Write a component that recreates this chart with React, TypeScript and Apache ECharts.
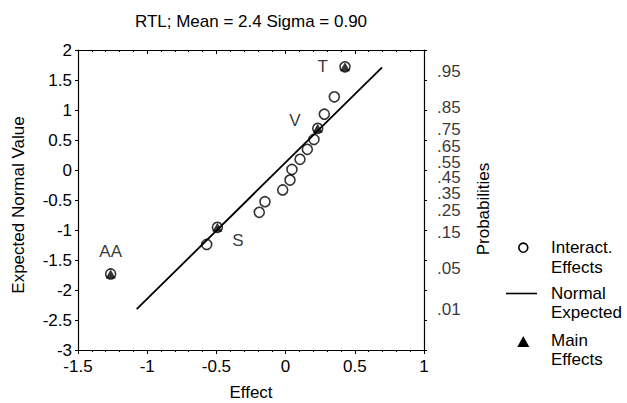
import React, { useEffect, useRef } from "react";
import * as echarts from "echarts";

const FONT = "'Liberation Sans', Arial, Helvetica, sans-serif";

// Interaction effects: [effect, expected normal value]
const interactEffect = [0.352, 0.28, 0.205, 0.157, 0.104, 0.046, 0.032, -0.021, -0.149, -0.19, -0.57];
const interactNormal = [1.22, 0.93, 0.51, 0.345, 0.178, 0.01, -0.167, -0.333, -0.528, -0.705, -1.24];

// Main effects
const mainNames = ["T", "V", "S", "AA"];
const mainEffect = [0.429, 0.232, -0.493, -1.264];
const mainNormal = [1.72, 0.695, -0.955, -1.733];

// Normal expected line end points
const lineEffect = [-1.076, 0.697];
const lineNormal = [-2.32, 1.71];

// Probability scale on the right
const probLabels = [".95", ".85", ".75", ".65", ".55", ".45", ".35", ".25", ".15", ".05", ".01"];
const probZ = [1.645, 1.036, 0.674, 0.385, 0.126, -0.126, -0.385, -0.674, -1.036, -1.645, -2.326];

const labelOffsets: Record<string, any> = {
  T: { position: "left", distance: 12 },
  V: { position: "left", offset: [-4, -8], distance: 8 },
  S: { position: "right", offset: [2, 13], distance: 8 },
  AA: { position: "top", distance: 9 },
};

export default function App() {
  const ref = useRef<HTMLDivElement>(null);
  useEffect(() => {
    if (!ref.current) return;
    const chart = echarts.init(ref.current, null, { renderer: "svg" });
    const txt = { color: "#000", fontFamily: FONT, fontSize: 17 };
    const axisLine = { show: true, onZero: false, lineStyle: { color: "#000", width: 1.2 } };
    const option: any = {
      animation: false,
      backgroundColor: "#fff",
      textStyle: { fontFamily: FONT, color: "#000" },
      title: {
        text: "RTL; Mean = 2.4 Sigma = 0.90",
        left: 251,
        top: 13,
        padding: 0,
        textAlign: "center",
        textStyle: { ...txt, fontWeight: "normal" },
      },
      grid: { left: 78, right: 203, top: 50, bottom: 53, containLabel: false, outerBoundsMode: "none" },
      xAxis: [
        {
          type: "value",
          position: "bottom",
          min: -1.5,
          max: 1,
          interval: 0.5,
          name: "Effect",
          nameLocation: "middle",
          nameGap: 34,
          nameTextStyle: txt,
          axisLine,
          axisTick: { show: true, inside: false, length: 4, lineStyle: { color: "#000" } },
          minorTick: { show: true, splitNumber: 5, length: 2, lineStyle: { color: "#000" } },
          axisLabel: { ...txt, margin: 8 },
          splitLine: { show: false },
        },
        {
          type: "value",
          position: "top",
          min: -1.5,
          max: 1,
          interval: 0.5,
          axisLine,
          axisTick: { show: true, inside: true, length: 4, lineStyle: { color: "#000" } },
          minorTick: { show: true, splitNumber: 5, length: 2, lineStyle: { color: "#000" } },
          axisLabel: { show: false },
          splitLine: { show: false },
        },
      ],
      yAxis: [
        {
          type: "value",
          position: "left",
          min: -3,
          max: 2,
          interval: 0.5,
          axisLine,
          axisTick: { show: true, inside: false, length: 3, lineStyle: { color: "#000" } },
          axisLabel: { ...txt, margin: 6 },
          splitLine: { show: false },
        },
        {
          type: "value",
          position: "right",
          min: -3,
          max: 2,
          interval: 0.5,
          axisLine,
          axisTick: { show: true, inside: false, length: 3, lineStyle: { color: "#000" } },
          axisLabel: { show: false },
          splitLine: { show: false },
        },
      ],
      series: [
        {
          name: "Normal Expected",
          type: "line",
          data: lineEffect.map((x, i) => [x, lineNormal[i]]),
          showSymbol: false,
          symbol: "none",
          lineStyle: { color: "#000", width: 1.8 },
          z: 1,
        },
        {
          name: "Interact. Effects",
          type: "scatter",
          data: interactEffect.map((x, i) => [x, interactNormal[i]]),
          symbol: "circle",
          symbolSize: 10,
          itemStyle: { color: "transparent", borderColor: "#000", borderWidth: 1.6 },
          z: 3,
        },
        {
          name: "Main Effects circle",
          type: "scatter",
          data: mainEffect.map((x, i) => [x, mainNormal[i]]),
          symbol: "circle",
          symbolSize: 10,
          itemStyle: { color: "transparent", borderColor: "#000", borderWidth: 1.6 },
          z: 3,
        },
        {
          name: "Main Effects",
          type: "scatter",
          data: mainEffect.map((x, i) => ({
            value: [x, mainNormal[i]],
            label: { show: true, formatter: mainNames[i], ...txt, ...labelOffsets[mainNames[i]] },
          })),
          symbol: "triangle",
          symbolSize: [10, 9],
          itemStyle: { color: "#000" },
          label: { ...txt },
          emphasis: { disabled: true },
          z: 4,
        },
        {
          name: "Probability labels",
          type: "scatter",
          clip: false,
          silent: true,
          data: probZ.map((z, i) => ({
            value: [1, z],
            label: { show: true, formatter: probLabels[i] },
          })),
          symbolSize: 0,
          itemStyle: { color: "transparent" },
          label: { ...txt, position: "right", distance: 13, lineHeight: 13 },
          z: 5,
        },
      ],
      graphic: [
        {
          type: "text",
          x: 18.5,
          y: 205,
          rotation: Math.PI / 2,
          style: { text: "Expected Normal Value", fill: "#000", font: `17px ${FONT}`, align: "center", verticalAlign: "middle" },
        },
        {
          type: "text",
          x: 483,
          y: 209,
          rotation: Math.PI / 2,
          style: { text: "Probabilities", fill: "#000", font: `17px ${FONT}`, align: "center", verticalAlign: "middle" },
        },
        {
          type: "circle",
          shape: { cx: 523.3, cy: 247.7, r: 4.5 },
          style: { fill: "none", stroke: "#000", lineWidth: 1.6 },
        },
        {
          type: "text",
          x: 551,
          y: 237.7,
          style: { text: "Interact.\nEffects", fill: "#000", font: `17px ${FONT}`, lineHeight: 20, verticalAlign: "top" },
        },
        {
          type: "line",
          shape: { x1: 506, y1: 293.5, x2: 537, y2: 293.5 },
          style: { stroke: "#000", lineWidth: 1.6 },
        },
        {
          type: "text",
          x: 551,
          y: 283.5,
          style: { text: "Normal\nExpected", fill: "#000", font: `17px ${FONT}`, lineHeight: 19, verticalAlign: "top" },
        },
        {
          type: "polygon",
          shape: { points: [[517.3, 347], [529.3, 347], [523.3, 336]] },
          style: { fill: "#000" },
        },
        {
          type: "text",
          x: 551,
          y: 330.5,
          style: { text: "Main\nEffects", fill: "#000", font: `17px ${FONT}`, lineHeight: 19, verticalAlign: "top" },
        },
      ],
    };
    chart.setOption(option);
    return () => chart.dispose();
  }, []);
  return (
    <div
      ref={ref}
      style={{ position: "fixed", left: 0, top: 0, width: 627, height: 403, background: "#fff" }}
    />
  );
}
